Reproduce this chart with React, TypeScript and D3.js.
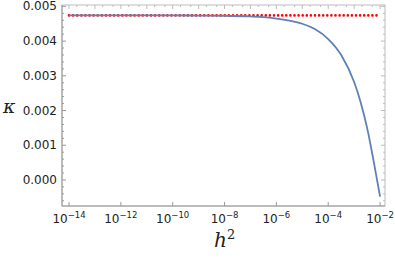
import React from "react";
import * as d3 from "d3";

// values
const h2Exp = [-14, -12, -10, -9, -8, -7, -6.5, -6, -5.5, -5, -4.5, -4, -3.5, -3, -2.75, -2.5, -2.25, -2];
const kappa = [
  0.00474, 0.00474, 0.00474, 0.004736, 0.00473, 0.00471, 0.00469, 0.00465, 0.00459, 0.0045,
  0.00434, 0.00406, 0.0036, 0.00282, 0.00224, 0.0015, 0.00055, -0.00048,
];
const kappaLimit = 0.00474;
const limitRange = [-14, -2];

const xTickExps = [-14, -12, -10, -8, -6, -4, -2];
const yTicks = [0, 0.001, 0.002, 0.003, 0.004, 0.005];

const W = 395;
const H = 261;
const frame = { left: 62, right: 385, top: 5, bottom: 206 };

export default function App() {
  const x = d3
    .scaleLog()
    .domain([Math.pow(10, -14.27), Math.pow(10, -1.81)])
    .range([frame.left, frame.right]);
  const y = d3.scaleLinear().domain([-0.00075, 0.00504]).range([frame.bottom, frame.top]);

  const line = d3
    .line<number>()
    .x((_, i) => x(Math.pow(10, h2Exp[i])))
    .y((d) => y(d))
    .curve(d3.curveMonotoneX);

  // minor ticks
  const yMinor = d3.range(-0.0006, 0.00501, 0.0002).filter((v) => Math.abs(v / 0.001 - Math.round(v / 0.001)) > 1e-6);
  const xMinor: number[] = [];
  for (let e = -15; e <= -2; e++) {
    [1, 2, 5].forEach((m) => {
      const v = m * Math.pow(10, e);
      const px = x(v);
      if (px > frame.left + 1 && px < frame.right - 1) xMinor.push(v);
    });
  }

  const axisColor = "#999";
  const font = "'DejaVu Sans', sans-serif";

  return (
    <svg width={W} height={H} style={{ position: "absolute", left: 0, top: 0, background: "white" }}>
      {/* frame */}
      <rect
        x={frame.left}
        y={frame.top}
        width={frame.right - frame.left}
        height={frame.bottom - frame.top}
        fill="none"
        stroke="#bbb"
        strokeWidth={1}
      />
      <line x1={frame.left} x2={frame.left} y1={frame.top} y2={frame.bottom} stroke={axisColor} />
      <line x1={frame.left} x2={frame.right} y1={frame.bottom} y2={frame.bottom} stroke={axisColor} />

      {/* y ticks */}
      {yTicks.map((t) => (
        <g key={"y" + t}>
          <line x1={frame.left} x2={frame.left + 4} y1={y(t)} y2={y(t)} stroke={axisColor} />
          <line x1={frame.right} x2={frame.right - 4} y1={y(t)} y2={y(t)} stroke="#bbb" />
          <text x={frame.left - 5} y={y(t) + 4} textAnchor="end" fontSize={12} fontFamily={font} fill="#222">
            {t.toFixed(3)}
          </text>
        </g>
      ))}
      {yMinor.map((t, i) => (
        <g key={"ym" + i}>
          <line x1={frame.left} x2={frame.left + 2} y1={y(t)} y2={y(t)} stroke={axisColor} />
          <line x1={frame.right} x2={frame.right - 2} y1={y(t)} y2={y(t)} stroke="#bbb" />
        </g>
      ))}

      {/* x ticks */}
      {xTickExps.map((e) => {
        const px = x(Math.pow(10, e));
        return (
          <g key={"x" + e}>
            <line x1={px} x2={px} y1={frame.bottom} y2={frame.bottom - 4} stroke={axisColor} />
            <text x={px} y={223} textAnchor="middle" fontSize={12} fontFamily={font} fill="#222">
              10
              <tspan dy={-5} fontSize={8.5}>
                {"\u2212" + Math.abs(e)}
              </tspan>
            </text>
          </g>
        );
      })}
      {xMinor.map((v, i) => {
        const px = x(v);
        const isDecade = Math.abs(Math.log10(v) - Math.round(Math.log10(v))) < 1e-6;
        return (
          <line
            key={"xm" + i}
            x1={px}
            x2={px}
            y1={frame.top}
            y2={frame.top + (isDecade ? 4 : 2)}
            stroke="#bbb"
          />
        );
      })}

      {/* limit line */}
      <line
        x1={x(Math.pow(10, limitRange[0]))}
        x2={x(Math.pow(10, limitRange[1]))}
        y1={y(kappaLimit)}
        y2={y(kappaLimit)}
        stroke="#ff0000"
        strokeWidth={2.6}
        strokeDasharray="0 4.1"
        strokeLinecap="round"
      />

      {/* curve */}
      <path d={line(kappa) || ""} fill="none" stroke="#5e81b5" strokeWidth={1.8} />

      {/* axis labels */}
      <text x={3} y={113} fontSize={19} fontStyle="italic" fontFamily="'DejaVu Serif', serif" fill="#222">
        κ
      </text>
      <text x={214} y={247} fontSize={20} fontStyle="italic" fontFamily="'DejaVu Serif', serif" fill="#222">
        h
        <tspan dy={-8} fontSize={13} fontStyle="normal">
          2
        </tspan>
      </text>
    </svg>
  );
}
